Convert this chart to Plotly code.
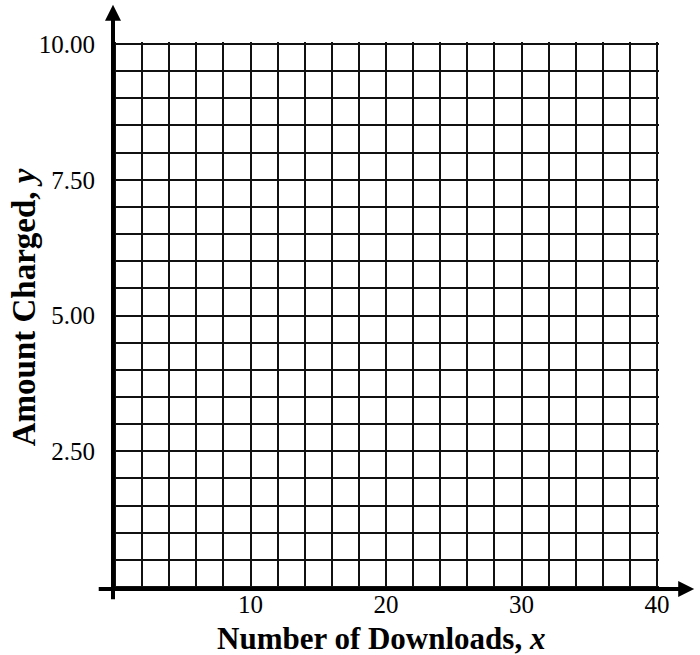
import plotly.graph_objects as go

# Data
x_ticks = [10, 20, 30, 40]
x_tick_labels = ["10", "20", "30", "40"]
y_ticks = [2.5, 5.0, 7.5, 10.0]
y_tick_labels = ["2.50", "5.00", "7.50", "10.00"]
x_range = [0, 40]
y_range = [0, 10]
x_grid_step = 2
y_grid_step = 0.5
x_title = "<b>Number of Downloads, <i>x</i></b>"
y_title = "<b>Amount Charged, <i>y</i></b>"

FONT = "Liberation Serif, Times New Roman, serif"
GRID = "#111111"

W, H = 700, 655
L, R, T, B = 114.5, 43, 44, 68          # plot area for the data range
PAD = 2.0                               # px of extra range so edge gridlines are drawn
pw, ph = W - L - R, H - T - B
ex = PAD * (x_range[1] - x_range[0]) / pw
ey = PAD * (y_range[1] - y_range[0]) / ph

fig = go.Figure()
fig.add_trace(go.Scatter(x=x_range, y=y_range, mode="markers",
                         marker=dict(opacity=0), hoverinfo="skip", showlegend=False))

fig.update_layout(
    width=W, height=H,
    margin=dict(l=L - PAD, r=R - PAD, t=T - PAD, b=B - PAD),
    paper_bgcolor="white", plot_bgcolor="white",
    font=dict(family=FONT, color="black"),
)

fig.update_xaxes(
    range=[x_range[0] - ex, x_range[1] + ex], tickvals=x_ticks, ticktext=x_tick_labels,
    showgrid=True, gridcolor=GRID, gridwidth=2,
    minor=dict(dtick=x_grid_step, tick0=0, showgrid=True, gridcolor=GRID, gridwidth=2),
    zeroline=False, showline=False, ticks="",
    tickfont=dict(size=25, family=FONT, color="black"),
    ticklabelstandoff=-2,
    automargin=False,
)
fig.update_yaxes(
    range=[y_range[0] - ey, y_range[1] + ey], tickvals=y_ticks, ticktext=y_tick_labels,
    showgrid=True, gridcolor=GRID, gridwidth=2,
    minor=dict(dtick=y_grid_step, tick0=0, showgrid=True, gridcolor=GRID, gridwidth=2),
    zeroline=False, showline=False, ticks="",
    tickfont=dict(size=25, family=FONT, color="black"),
    ticklabelstandoff=17,
    automargin=False,
)

# axis titles
fig.add_annotation(text=x_title, xref="paper", yref="paper", x=0.491, y=-0.091,
                   xanchor="center", yanchor="middle", showarrow=False,
                   font=dict(size=31, family=FONT, color="black"))
fig.add_annotation(text=y_title, xref="paper", yref="paper", x=-0.163, y=0.515,
                   xanchor="center", yanchor="middle", showarrow=False, textangle=-90,
                   font=dict(size=33, family=FONT, color="black"))

# axes with arrows (tip in paper coords, tail offset in px)
fig.add_annotation(x=1.0645, y=0, xref="paper", yref="paper", ax=-597, ay=0,
                   text="", showarrow=True, arrowhead=2, arrowwidth=4, arrowsize=0.8,
                   arrowcolor="black")
fig.add_annotation(x=0, y=1.068, xref="paper", yref="paper", ax=0, ay=596,
                   text="", showarrow=True, arrowhead=2, arrowwidth=4, arrowsize=0.8,
                   arrowcolor="black")

fig.write_html("out.html", config={"displayModeBar": False},
               post_script="document.body.style.margin='0';")
